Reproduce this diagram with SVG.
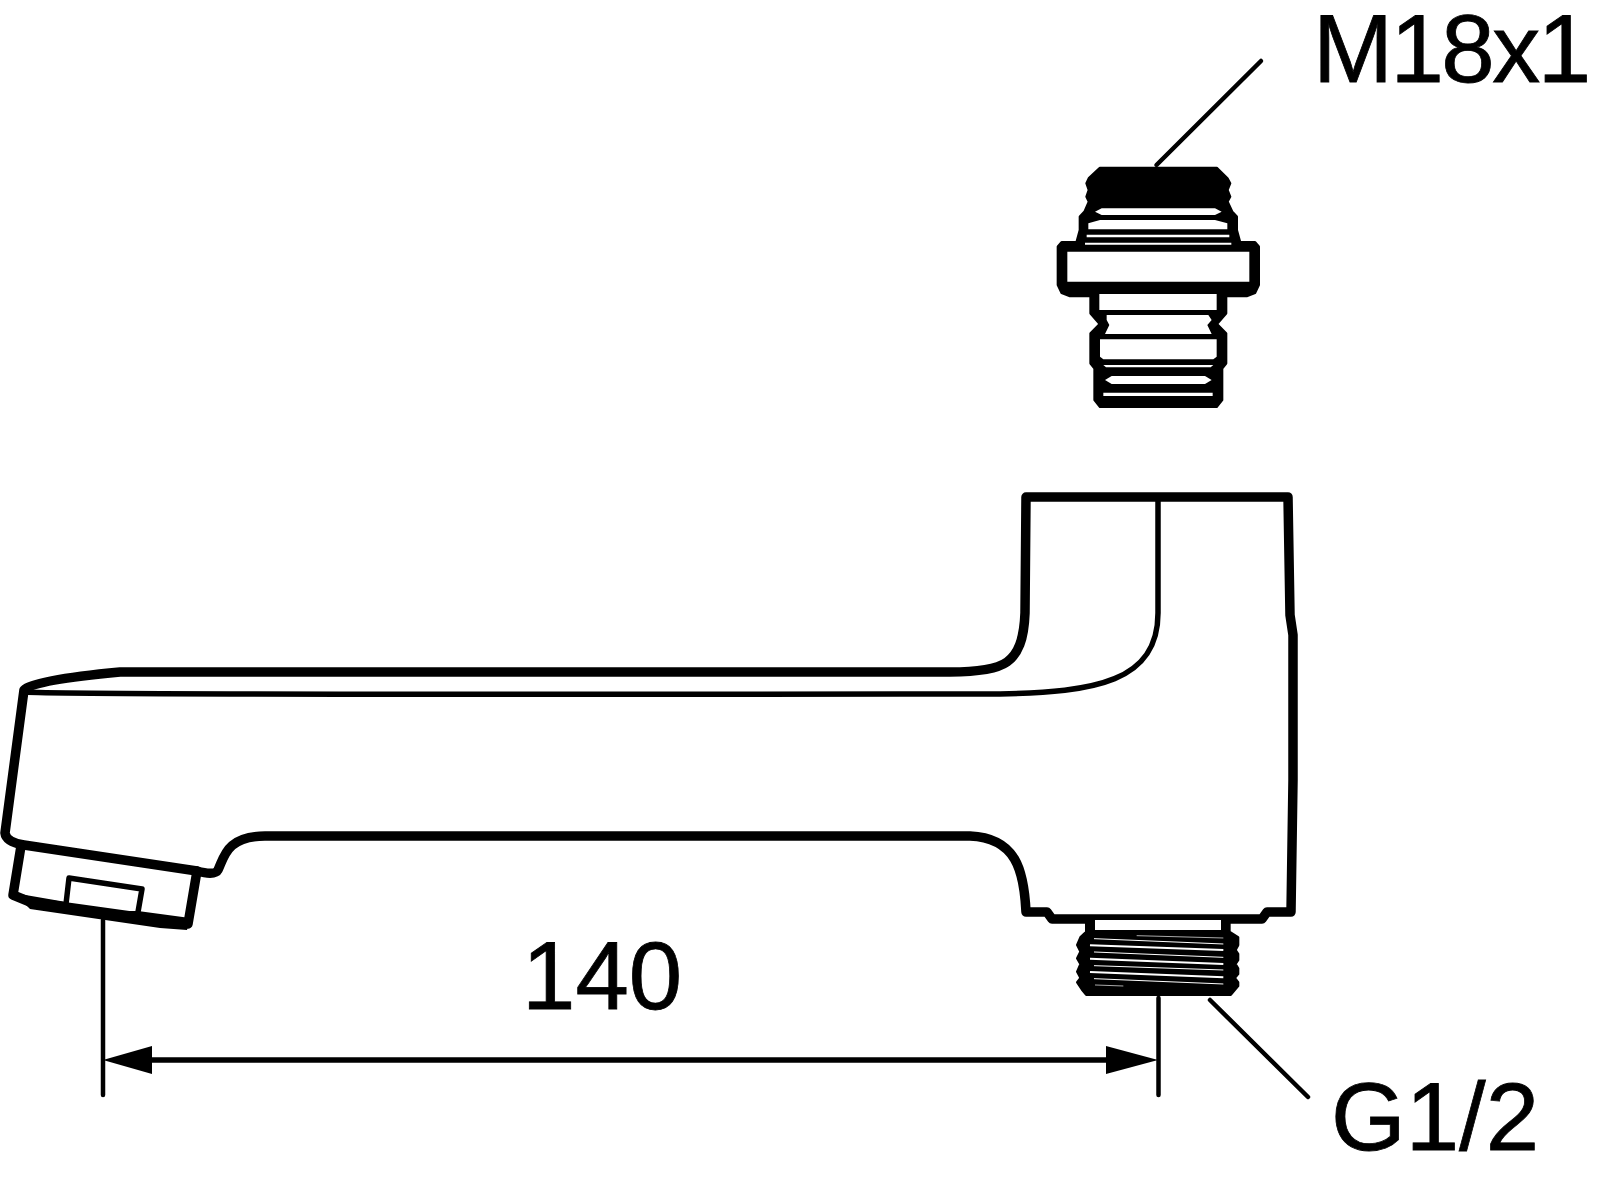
<svg xmlns="http://www.w3.org/2000/svg" width="1603" height="1181" viewBox="0 0 1603 1181">
<style>
.o{fill:none;stroke:#000;stroke-width:9.500;stroke-linejoin:round;stroke-linecap:round}
.m{fill:none;stroke:#000;stroke-width:5.500;stroke-linejoin:round;stroke-linecap:round}
.d{fill:none;stroke:#000;stroke-width:4.500;stroke-linecap:round}
.k{fill:#000}
.s{fill:#000;stroke:#000;stroke-width:8;stroke-linejoin:round}
.w{fill:#fff}
.t{fill:none;stroke:#fff;stroke-linecap:butt}
text{font-family:"Liberation Sans",Arial,sans-serif;font-size:96px;fill:#000;stroke:#000;stroke-width:.8}
</style>
<rect width="1603" height="1181" fill="#fff"/>
<g id="fitting" transform="translate(1020 150) scale(.33333)">
<path class="s" d="M240 54L590 54L622 85L630 100L622 120L630 140L622 155L636 185L650 200L650 240L660 277L705 277L716 290L716 405L705 428L680 438L618 438L618 490L590 522L618 550L618 640L606 655L606 750L590 770L240 770L224 750L224 655L212 640L212 550L240 522L212 490L212 438L150 438L125 428L114 405L114 290L125 277L170 277L180 240L180 200L194 185L207 155L200 140L207 120L200 100L207 85Z"/>
<path class="w" d="M225 185L245 175L585 175L605 185L585 195L245 195Z"/>
<path class="w" d="M205 220L240 210L585 210L622 220L622 238L205 238Z"/>
<path class="w" d="M200 254H628V262H200Z"/>
<path class="w" d="M195 278H634V284H195Z"/>
<path class="w" d="M142 305H688V395H142Z"/>
<path class="w" d="M238 432H590V480H238Z"/>
<path class="w" d="M260 495H565L575 510L562 525L575 552H255L268 525L260 510Z"/>
<path class="w" d="M240 568H590V620L580 628H250L240 620Z"/>
<path class="w" d="M250 645H580L572 652H258Z"/>
<path class="w" d="M255 690L275 678H555L575 690L555 702H275Z"/>
<path class="w" d="M250 728H578V738H250Z"/>
</g>
<g id="spout">
<path class="o" d="M1026 497H1288L1290 615L1293 635V780L1291 912H1267L1262 919H1052L1047 912H1026C1024 870 1016 838 970 836H265C226 836 224 858 218 870Q215 876 197 871L24 845Q6 842 5 833L24 690Q34 680 120 672H950C985 672 1000 667 1007 662C1018 654 1024 640 1025 613Z"/>
<path class="m" d="M25 692Q60 695 900 694H1000C1095 692 1158 682 1158 613V497"/>
<path class="o" d="M21 846L13 895L30 902L188 924L197 871"/>
<path class="m" d="M66 904L69 878L142 889L138 912"/>
<path class="k" d="M14 893L66 902Q90 912 138 911L190 918L187 930L160 928L30 909Z"/>
</g>
<g id="thread" transform="translate(990 870) scale(.33333)">
<path class="s" d="M289 150H311V182H697V150H718V186L744 202V225L736 240L744 252V270L736 282L744 295V312L734 324L744 337V348L722 374H289L276 358L262 337L272 324L262 305L272 282L262 265L272 245L262 225L272 202L289 186Z"/>
<path class="w" d="M315 150H693V180H315Z"/>
<g class="t">
<path stroke-width="2" d="M440 197L700 204"/>
<path stroke-width="3" d="M312 206L700 222"/>
<path stroke-width="6" d="M300 226L700 240"/>
<path stroke-width="3" d="M312 246L700 262"/>
<path stroke-width="6" d="M300 266L700 282"/>
<path stroke-width="3" d="M312 287L700 300"/>
<path stroke-width="6" d="M300 306L700 322"/>
<path stroke-width="3" d="M312 326L700 342"/>
<path stroke-width="2" d="M315 345L400 348"/>
</g>
</g>
<g id="connectors">
<path class="d" d="M1261 61L1156.500 165"/>
<path class="d" d="M1210 1000L1308 1097"/>
<path class="d" d="M103 920V1095"/>
<path class="d" d="M1158.500 998V1095"/>
<path class="m" d="M150 1060H1108" stroke-linecap="butt"/>
<path class="k" d="M103 1060L152 1046V1074Z"/>
<path class="k" d="M1158 1060L1106 1046V1074Z"/>
</g>
<g id="labels">
<text x="1313" y="82" letter-spacing="-2.500">M18x1</text>
<text x="522" y="1009">140</text>
<text x="1331" y="1150">G1/2</text>
</g>
</svg>
